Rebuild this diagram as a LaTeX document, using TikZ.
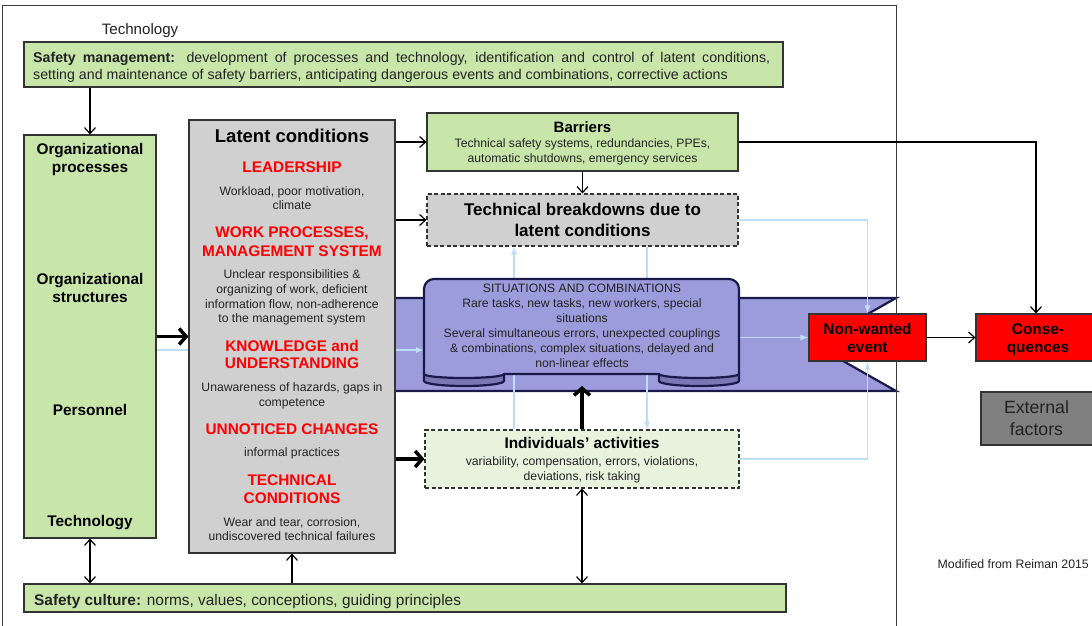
\documentclass[tikz,border=0pt]{standalone}
\usepackage{fontspec}
\setmainfont{Liberation Sans}
\usetikzlibrary{arrows.meta}
\pgfdeclarelayer{bg}
\pgfdeclarelayer{mid}
\pgfsetlayers{bg,mid,main}
\definecolor{gr}{RGB}{201,230,170}
\definecolor{lgr}{RGB}{232,243,222}
\definecolor{gy}{RGB}{208,208,208}
\definecolor{rib}{RGB}{156,156,220}
\definecolor{ribd}{RGB}{120,120,180}
\definecolor{navy}{RGB}{25,25,75}
\definecolor{lb}{RGB}{190,222,248}
\definecolor{extg}{RGB}{128,128,128}
\definecolor{framec}{RGB}{60,60,60}
\definecolor{txtg}{RGB}{35,35,35}
\newcommand{\fs}[1]{\fontsize{#1}{#1}\selectfont}
\begin{document}
\begin{tikzpicture}[x=1pt,y=-1pt,
  box/.style={draw=black!80, line width=1.1pt, inner sep=0pt},
  dbox/.style={box, dash pattern=on 4pt off 2.5pt},
  txt/.style={inner sep=0pt, anchor=base, text=txtg},
  sm/.style={txt, font=\fs{12.2}},
  hd/.style={txt, font=\fs{15.4}\bfseries, text=red},
  bh/.style={txt, font=\fs{15.4}\bfseries, text=black},
  arr/.style={line width=1.2pt, -{Straight Barb[length=6pt,width=11pt]}},
  darr/.style={line width=1.2pt, {Straight Barb[length=6pt,width=11pt]}-{Straight Barb[length=6pt,width=11pt]}},
  tarr/.style={line width=3.5pt, -{Straight Barb[length=7pt,width=16pt]}},
  larr/.style={draw=lb, line width=1.2pt, -{Latex[length=8pt,width=6pt]}},
  ribbon/.style={draw=navy, line width=2.2pt, line join=round},
]
\useasboundingbox (0,0) rectangle (1092,626);

% white page and band behind everything
\begin{pgfonlayer}{bg}
\fill[white] (0,0) rectangle (1092,626);
\draw[ribbon, fill=rib, line join=miter] (390,298) -- (896,298) -- (814,344.5) -- (896,391) -- (390,391) -- cycle;
\end{pgfonlayer}
\draw[draw=framec, line width=1pt] (2,640) -- (2,5.5) -- (896,5.5) -- (896,640);

% scroll
\draw[ribbon, fill=ribd] (424,372) -- (424,381) arc[start angle=180, end angle=0, x radius=40, y radius=5] -- (504,372) -- cycle;
\draw[ribbon, fill=ribd] (659,372) -- (659,381) arc[start angle=180, end angle=0, x radius=40, y radius=5] -- (739,372) -- cycle;
\draw[ribbon, fill=rib] (424,374) -- (424,289) arc[start angle=180, end angle=270, radius=10] -- (729,279) arc[start angle=270, end angle=360, radius=10] -- (739,374)
  arc[start angle=0, end angle=180, x radius=40, y radius=4] -- (504,374)
  arc[start angle=0, end angle=180, x radius=40, y radius=4] -- cycle;
\coordinate (scL) at (424,350);
\coordinate (scR) at (739,337.5);
\coordinate (scB) at (582,386);
\coordinate (xa) at (514,0);
\coordinate (xb) at (647,0);
\node[sm] (sc) at (582,292.7) {SITUATIONS AND COMBINATIONS};
\node[sm] at (582,307.7) {Rare tasks, new tasks, new workers, special};
\node[sm] at (582,322.7) {situations};
\node[sm] at (582,337.5) {Several simultaneous errors, unexpected couplings};
\node[sm] at (582,352.5) {\& combinations, complex situations, delayed and};
\node[sm] at (582,367.3) {non-linear effects};

% top
\node[txt, font=\fs{15.1}] (techtop) at (140,35) {Technology};
\node[box, fill=gr, minimum width=759, minimum height=45] (sm) at (403.5,64.5) {};
\node[txt, anchor=base west, font=\fs{14.2}] at (33,62.5) {\hbox to 737pt{\textbf{Safety management:} development of processes and technology, identification and control of latent conditions,}};
\node[txt, anchor=base west, font=\fs{14.2}] at (33,79) {setting and maintenance of safety barriers, anticipating dangerous events and combinations, corrective actions};

% left column
\node[box, fill=gr, minimum width=132, minimum height=403] (org) at (90,336.5) {};
\node[bh] at (90,154.3) {Organizational};
\node[bh] at (90,172.7) {processes};
\node[bh] at (90,284.3) {Organizational};
\node[bh] at (90,302.7) {structures};
\node[bh] at (90,415) {Personnel};
\node[bh] at (90,526.7) {Technology};

% latent conditions
\node[box, fill=gy, minimum width=206, minimum height=433] (lat) at (292,336.5) {};
\node[txt, font=\fs{18.5}\bfseries, text=black] at (292,142.6) {Latent conditions};
\node[hd] at (292,172) {LEADERSHIP};
\node[sm] at (292,195) {Workload, poor motivation,};
\node[sm] at (292,209.5) {climate};
\node[hd] at (292,237.3) {WORK PROCESSES,};
\node[hd] at (292,256) {MANAGEMENT SYSTEM};
\node[sm] at (292,278.7) {Unclear responsibilities \&};
\node[sm] at (292,293.3) {organizing of work, deficient};
\node[sm] at (292,308.3) {information flow, non-adherence};
\node[sm] at (292,322.7) {to the management system};
\node[hd] at (292,351) {KNOWLEDGE and};
\node[hd] at (292,368.7) {UNDERSTANDING};
\node[sm] at (292,391.7) {Unawareness of hazards, gaps in};
\node[sm] at (292,406.7) {competence};
\node[hd] at (292,434) {UNNOTICED CHANGES};
\node[sm] at (292,456.7) {informal practices};
\node[hd] at (292,485) {TECHNICAL};
\node[hd] at (292,503.3) {CONDITIONS};
\node[sm] at (292,526) {Wear and tear, corrosion,};
\node[sm] at (292,540.7) {undiscovered technical failures};

% barriers
\node[box, fill=gr, minimum width=311, minimum height=58] (bar) at (582.5,142) {};
\node[txt, font=\fs{15}\bfseries, text=black] at (582.5,132.3) {Barriers};
\node[sm] at (582.5,147.3) {Technical safety systems, redundancies, PPEs,};
\node[sm] at (582.5,162.3) {automatic shutdowns, emergency services};

% technical breakdowns
\node[dbox, fill=gy, minimum width=311, minimum height=52] (tb) at (582.5,220) {};
\node[txt, font=\fs{17}\bfseries, text=black] at (582.5,215.7) {Technical breakdowns due to};
\node[txt, font=\fs{17}\bfseries, text=black] at (582.5,236) {latent conditions};

% individuals
\node[dbox, fill=lgr, minimum width=314, minimum height=58] (ind) at (582,459) {};
\node[bh] at (582,448.3) {Individuals’ activities};
\node[sm] at (582,465) {variability, compensation, errors, violations,};
\node[sm] at (582,480) {deviations, risk taking};

% safety culture
\node[box, fill=gr, minimum width=762, minimum height=28] (cult) at (405,598) {};
\node[txt, anchor=base west, font=\fs{15.4}] at (34,605) {\textbf{Safety culture:} norms, values, conceptions, guiding principles};

% right side
\node[box, fill=red, minimum width=117, minimum height=47] (nwe) at (867.5,337.5) {};
\node[bh] at (867.5,334) {Non-wanted};
\node[bh] at (867.5,352.7) {event};
\node[box, fill=red, minimum width=120, minimum height=47] (con) at (1036,337.5) {};
\node[bh] at (1038,334) {Conse-};
\node[bh] at (1038,352.7) {quences};
\node[box, fill=extg, minimum width=112, minimum height=53] (ext) at (1037,418.5) {};
\node[txt, font=\fs{17.7}] at (1036.5,413.3) {External};
\node[txt, font=\fs{17.7}] at (1036.5,435.3) {factors};
\node[txt, anchor=base east, font=\fs{12.3}] (mod) at (1089,568.7) {Modified from Reiman 2015};

% light blue connectors
\begin{pgfonlayer}{mid}
\draw[larr] (org.east |- scL) -- (scL);
\draw[larr] (scR) -- (nwe.west);
\draw[larr] (tb.east) -| (nwe.north);
\draw[larr] (ind.east) -| (nwe.south);
\draw[larr] (ind.north -| xa) -- (tb.south -| xa);
\draw[larr] (tb.south -| xb) -- (ind.north -| xb);
\end{pgfonlayer}

% black connectors
\draw[arr] (org.north |- sm.south) -- (org.north);
\draw[arr] (lat.east |- bar.west) -- (bar.west);
\draw[arr] (lat.east |- tb.west) -- (tb.west);
\draw[tarr] (lat.east |- ind.west) -- (ind.west);
\draw[tarr] (org.east) -- (lat.west);
\draw[arr] (bar.south) -- (tb.north);
\draw[arr] (bar.east) -- (bar.east -| con.north) -- (con.north);
\draw[arr] (nwe.east) -- (con.west);
\draw[darr] (ind.south) -- (ind.south |- cult.north);
\draw[arr] (lat.south |- cult.north) -- (lat.south);
\draw[darr] (org.south) -- (org.south |- cult.north);
\draw[tarr] (ind.north) -- (scB);
\end{tikzpicture}
\end{document}
